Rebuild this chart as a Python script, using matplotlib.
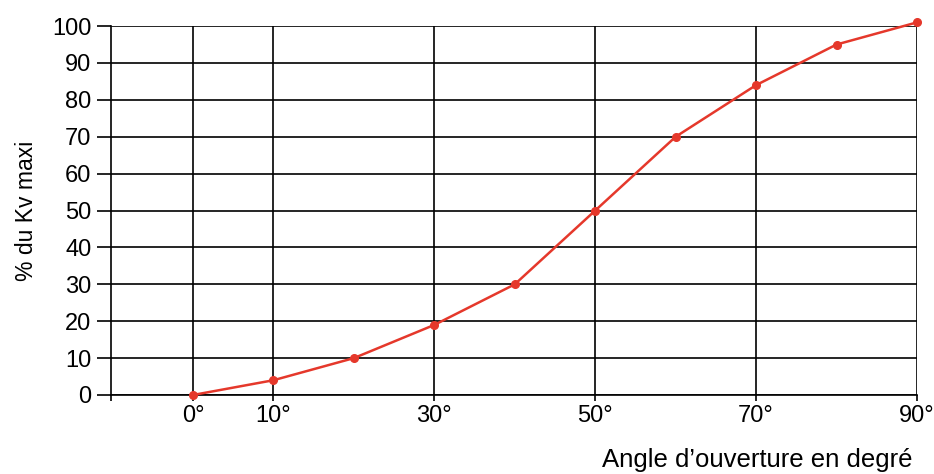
import matplotlib
matplotlib.use('Agg')
import matplotlib.pyplot as plt

# valve opening angle vs % of max Kv
angles = [0, 10, 20, 30, 40, 50, 60, 70, 80, 90]
kv_pct = [0, 4, 10, 19, 30, 50, 70, 84, 95, 101]
grid_angles = [0, 10, 30, 50, 70, 90]
grid_labels = ['0°', '10°', '30°', '50°', '70°', '90°']
y_ticks = [0, 10, 20, 30, 40, 50, 60, 70, 80, 90, 100]

RED = '#e5382b'
plt.rcParams['font.family'] = ['Liberation Sans', 'DejaVu Sans']

fig = plt.figure(figsize=(9.34, 4.74), dpi=100)
ax = fig.add_axes([0.1188, 0.1667, 0.8630, 0.7783])

for a in grid_angles:
    ax.axvline(a, color='black', lw=1.2, zorder=1)
ax.set_yticks(y_ticks)
ax.grid(axis='y', color='black', lw=1.2, zorder=1)

ax.plot(angles, kv_pct, color=RED, lw=1.8, marker='o', markersize=5.5,
        zorder=3, clip_on=False)

ax.set_xlim(-10.2, 90)
ax.set_ylim(0, 100)
ax.set_xticks([-10.2] + grid_angles)
ax.set_xticklabels([''] + grid_labels, fontsize=17)
ax.tick_params(axis='x', length=4, width=1.2, pad=3)
ax.tick_params(axis='y', length=10, width=1.2, labelsize=17, pad=4)

for side in ['top', 'right']:
    ax.spines[side].set_visible(False)
for side in ['left', 'bottom']:
    ax.spines[side].set_linewidth(1.2)

ax.set_ylabel('% du Kv maxi', fontsize=16.5, labelpad=10)
fig.text(0.977, 0.005, 'Angle d’ouverture en degré', fontsize=18.5,
         ha='right', va='bottom')

fig.savefig('out.png', dpi=100)
